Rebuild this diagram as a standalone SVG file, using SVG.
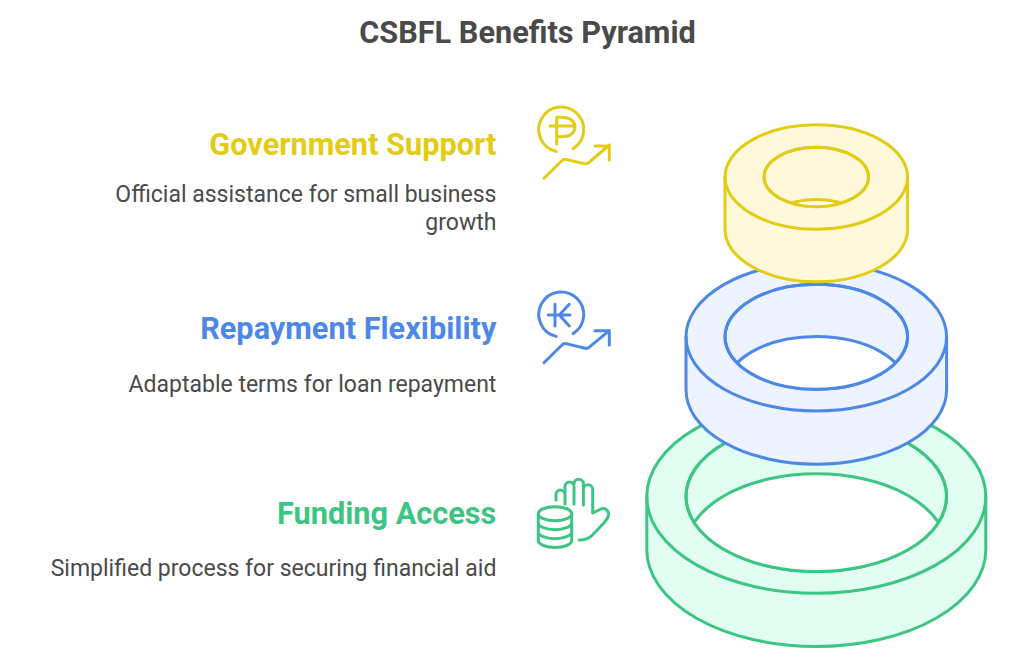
<svg xmlns="http://www.w3.org/2000/svg" width="1024" height="659" viewBox="0 0 1024 659">
<style>
text{font-family:Roboto,"Liberation Sans",sans-serif}
.t{font-size:30.7px;font-weight:700;fill:#4A4A4A;text-anchor:middle}
.h{font-size:30.7px;font-weight:700;text-anchor:end}
.d{font-size:23px;fill:#4A4A4A;text-anchor:end}
.s{stroke-width:3;stroke-linecap:round;stroke-linejoin:round}
.i{fill:none;stroke-width:3;stroke-linecap:round;stroke-linejoin:round}
.y{stroke:#E3CC14}.b{stroke:#4E88E7}.g{stroke:#3CC583}
</style>
<defs>
<clipPath id="cy"><ellipse cx="816.3" cy="177" rx="52.2" ry="29.7"/></clipPath>
<clipPath id="cb"><ellipse cx="816.3" cy="336.8" rx="91.3" ry="52.5"/></clipPath>
<clipPath id="cg"><ellipse cx="816.3" cy="496.5" rx="130.3" ry="75"/></clipPath>
</defs>
<rect width="1024" height="659" fill="#fff"/>
<text class="t" x="527.5" y="43.3">CSBFL Benefits Pyramid</text>
<g id="ring-green" class="s g" fill="#E2FDF1">
<path d="M646.8 496.5V549.8A169.5 96.8 0 0 0 985.8 549.8V496.5A169.5 96.8 0 0 0 646.8 496.5Z"/>
<path fill="none" d="M646.8 496.5A169.5 96.8 0 0 0 985.8 496.5"/>
<ellipse cx="816.3" cy="496.5" rx="130.3" ry="75"/>
<ellipse cx="816.3" cy="548.8" rx="130.3" ry="75" fill="#fff" clip-path="url(#cg)"/>
<ellipse cx="816.3" cy="496.5" rx="130.3" ry="75" fill="none"/>
</g>
<g id="ring-blue" class="s b" fill="#EDF3FF">
<path d="M686 336.8V390A130.3 74.2 0 0 0 946.6 390V336.8A130.3 74.2 0 0 0 686 336.8Z"/>
<path fill="none" d="M686 336.8A130.3 74.2 0 0 0 946.6 336.8"/>
<ellipse cx="816.3" cy="336.8" rx="91.3" ry="52.5"/>
<ellipse cx="816.3" cy="389" rx="91.3" ry="52.5" fill="#fff" clip-path="url(#cb)"/>
<ellipse cx="816.3" cy="336.8" rx="91.3" ry="52.5" fill="none"/>
</g>
<g id="ring-yellow" class="s y" fill="#FFF9DB">
<path d="M725 177V229.6A91.3 52.2 0 0 0 907.6 229.6V177A91.3 52.2 0 0 0 725 177Z"/>
<path fill="none" d="M725 177A91.3 52.2 0 0 0 907.6 177"/>
<ellipse cx="816.3" cy="177" rx="52.2" ry="29.7"/>
<ellipse cx="816.3" cy="229.2" rx="52.2" ry="29.7" fill="#fff" clip-path="url(#cy)"/>
<ellipse cx="816.3" cy="177" rx="52.2" ry="29.7" fill="none"/>
</g>
<g id="node-government">
<text class="h" x="496.4" y="154.7" fill="#E3CC14">Government Support</text>
<text class="d" x="496.4" y="201.8">Official assistance for small business</text>
<text class="d" x="496.4" y="229.8">growth</text>
<g class="i y">
<path d="M556.2 151.4A22.5 22.5 0 1 1 573.1 148.6"/>
<path d="M556.7 117.3V144M556.7 117.3H561C571 117.3 575 122 575 127C575 132 571 136.7 561 136.7H556.7M550 126H575"/>
<path d="M544 178.3L562 160.5Q563.5 158.8 566 159.4L584 163.6Q587 164.2 589 162.5L609.3 145M595 146H609.3V160"/>
</g>
</g>
<g id="node-repayment">
<text class="h" x="496.4" y="338.7" fill="#4E88E7">Repayment Flexibility</text>
<text class="d" x="496.4" y="391.8">Adaptable terms for loan repayment</text>
<g class="i b">
<path d="M556.2 336.4A22.5 22.5 0 1 1 573.1 333.6"/>
<path d="M555 304.3V326M548.3 315H570M569.3 304.3L559.3 315L569.3 326"/>
<path d="M544 362.7L562 345Q563.5 343 566 343.6L584 348Q587 349 589 347.3L609.3 330.7M595 330.7H609.3V345"/>
</g>
</g>
<g id="node-funding">
<text class="h" x="496.4" y="523.7" fill="#3CC583">Funding Access</text>
<text class="d" x="496.4" y="575.8">Simplified process for securing financial aid</text>
<g class="i g">
<ellipse cx="555" cy="513.7" rx="16.7" ry="7"/>
<path d="M538.3 513.7V540.5C538.3 544.5 546 547.5 555 547.5C564 547.5 571.7 544.5 571.7 540.5V513.7M538.3 522.7C538.3 526.7 546 529.7 555 529.7C564 529.7 571.7 526.7 571.7 522.7M538.3 531.7C538.3 535.7 546 538.7 555 538.7C564 538.7 571.7 535.7 571.7 531.7"/>
<path d="M556 500V494.5A4.5 4.5 0 0 1 565 494.5V504M565 494.5V486.5A4.5 4.5 0 0 1 574 486.5V504M574 484A4.7 4.7 0 0 1 583.4 484V505M583.4 489.5A4.6 4.6 0 0 1 592.7 489.5V513L600 509.5C604.5 507 609 510 608.5 515C608 519 605 522 601 526L592 535.5C589 538.5 586 540 579.3 540"/>
</g>
</g>
</svg>
